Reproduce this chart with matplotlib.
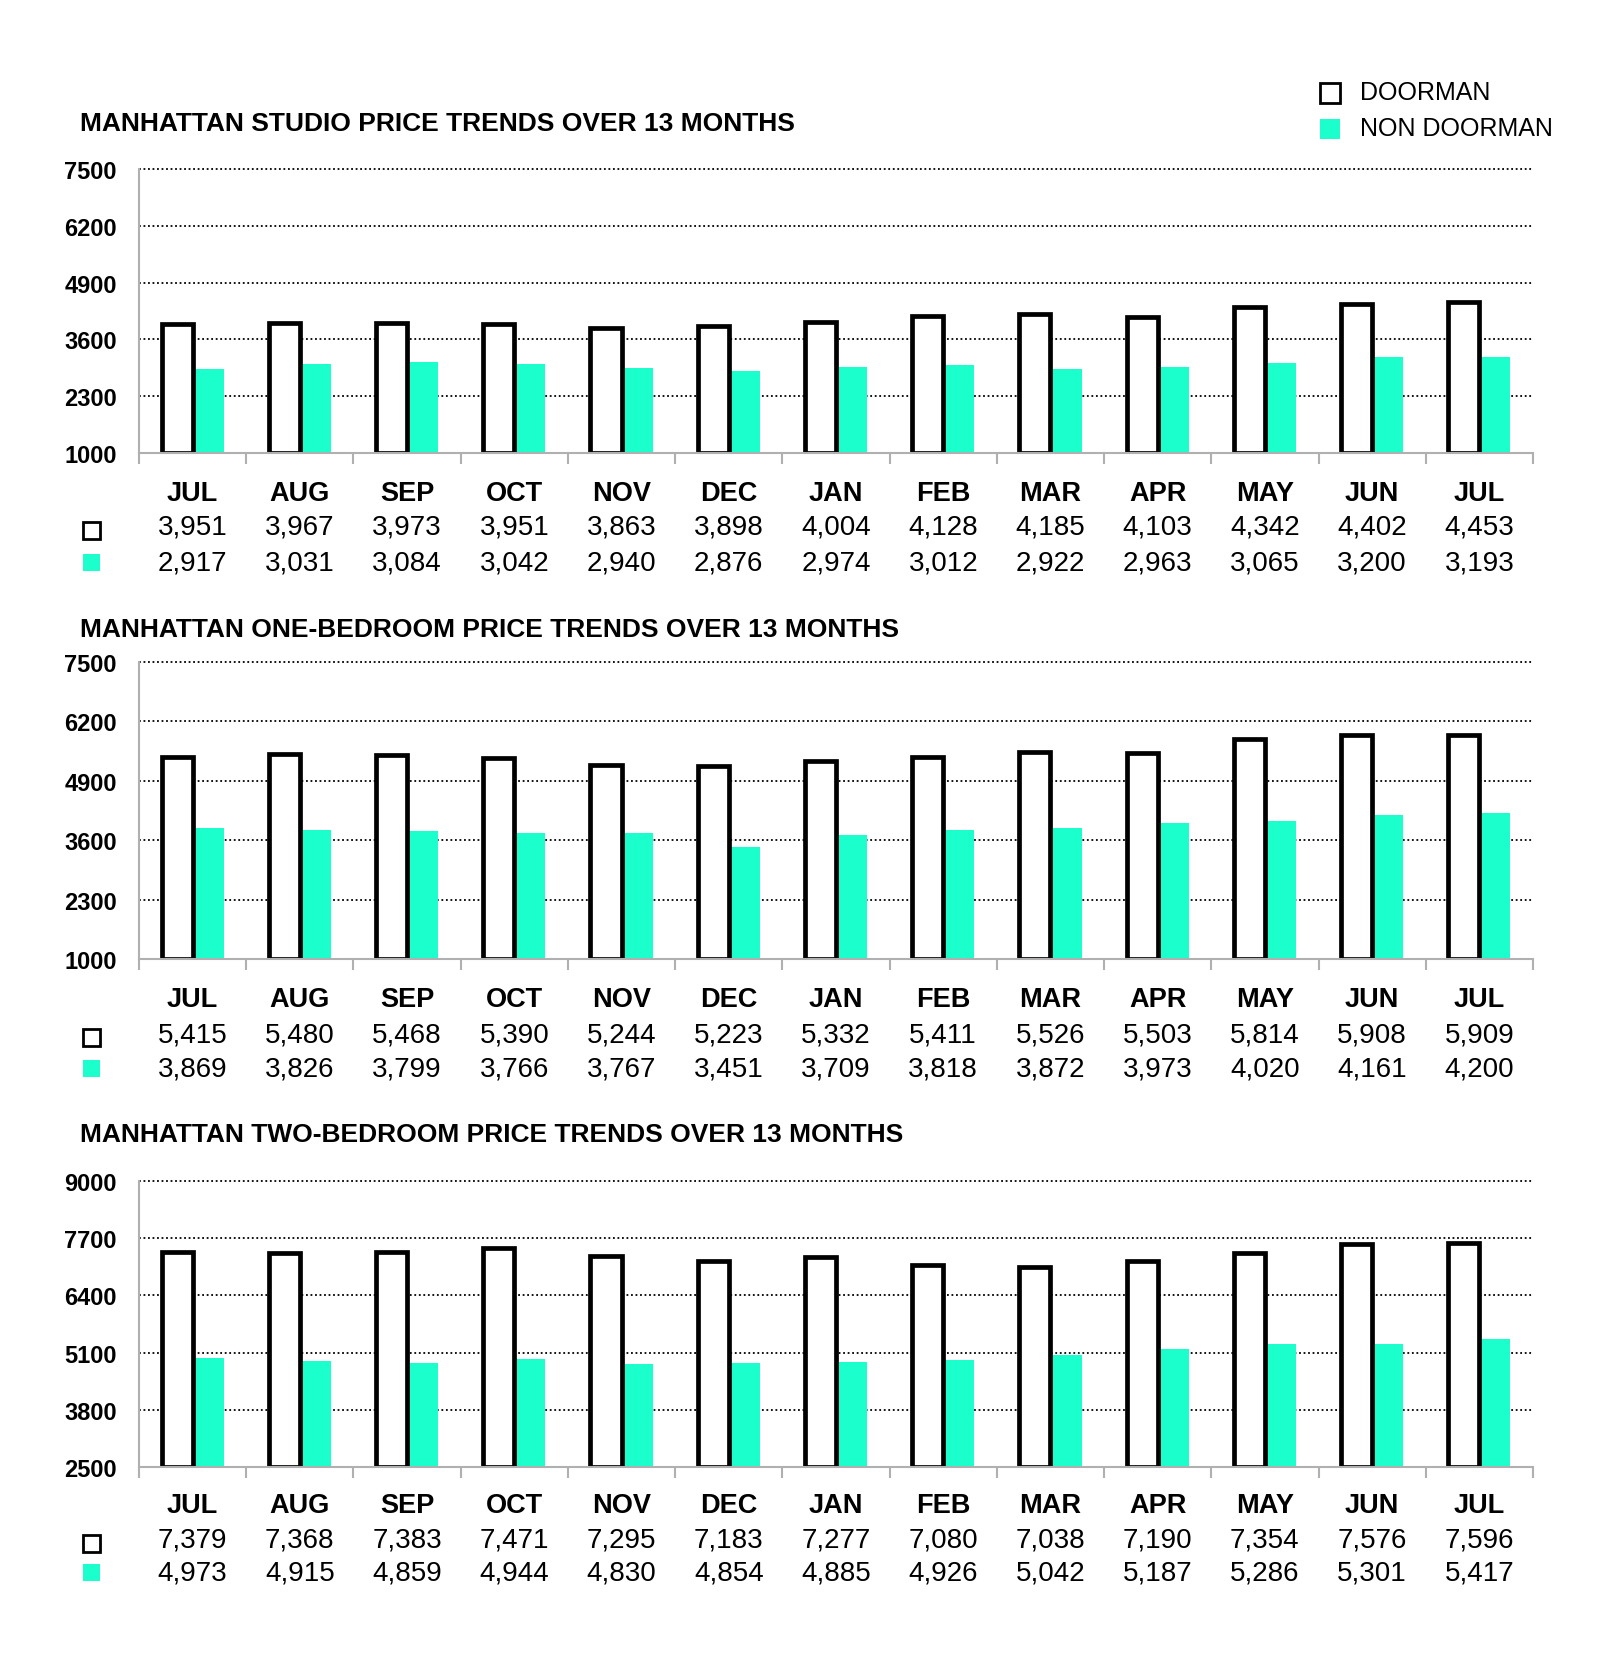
import matplotlib.pyplot as plt
from matplotlib.patches import Rectangle

plt.rcParams['font.family'] = ['Liberation Sans', 'DejaVu Sans']

months = ['JUL', 'AUG', 'SEP', 'OCT', 'NOV', 'DEC', 'JAN', 'FEB', 'MAR', 'APR', 'MAY', 'JUN', 'JUL']

studio_doorman = [3951, 3967, 3973, 3951, 3863, 3898, 4004, 4128, 4185, 4103, 4342, 4402, 4453]
studio_non = [2917, 3031, 3084, 3042, 2940, 2876, 2974, 3012, 2922, 2963, 3065, 3200, 3193]
onebed_doorman = [5415, 5480, 5468, 5390, 5244, 5223, 5332, 5411, 5526, 5503, 5814, 5908, 5909]
onebed_non = [3869, 3826, 3799, 3766, 3767, 3451, 3709, 3818, 3872, 3973, 4020, 4161, 4200]
twobed_doorman = [7379, 7368, 7383, 7471, 7295, 7183, 7277, 7080, 7038, 7190, 7354, 7576, 7596]
twobed_non = [4973, 4915, 4859, 4944, 4830, 4854, 4885, 4926, 5042, 5187, 5286, 5301, 5417]

ticks_small = [1000, 2300, 3600, 4900, 6200, 7500]
ticks_big = [2500, 3800, 5100, 6400, 7700, 9000]

CYAN = '#1affcc'
W, H = 1600, 1656

fig = plt.figure(figsize=(W / 100, H / 100), dpi=100)


def fy(py):
    # pixel from top -> figure fraction
    return 1 - py / H


def fx(px):
    return px / W


def panel(title, doorman, non, yticks, top, bottom, title_y, rows_y):
    left, right = 139, 1533
    ax = fig.add_axes([fx(left), fy(bottom), fx(right - left), (bottom - top) / H])
    x = list(range(len(months)))
    bw = 0.29
    ax.bar([i - bw / 2 for i in x], [d - yticks[0] for d in doorman], bottom=yticks[0],
           width=bw, facecolor='white', edgecolor='black', linewidth=3.4, zorder=3)
    ax.bar([i + bw / 2 for i in x], [n - yticks[0] for n in non], bottom=yticks[0],
           width=bw, color=CYAN, linewidth=0, zorder=2)
    ax.set_xlim(-0.5, len(months) - 0.5)
    ax.set_ylim(yticks[0], yticks[-1])
    ax.set_yticks(yticks)
    ax.set_yticklabels([str(t) for t in yticks], fontsize=17, fontweight='bold',
                       family=['Liberation Sans Narrow', 'Liberation Sans'])
    ax.tick_params(axis='y', length=0, pad=16)
    ax.set_xticks([i - 0.5 for i in range(len(months) + 1)])
    ax.set_xticklabels([])
    ax.tick_params(axis='x', length=8, width=1.5, color='#b0b0b0', direction='out')
    for t in yticks[1:]:
        ax.axhline(t, color='black', linestyle=(0, (1, 1.5)), linewidth=1.3, zorder=1, clip_on=False)
    for s in ['top', 'right']:
        ax.spines[s].set_visible(False)
    for s in ['left', 'bottom']:
        ax.spines[s].set_color('#b0b0b0')
        ax.spines[s].set_linewidth(1.5)
    ax.spines['bottom'].set_zorder(4)

    fig.text(fx(80), fy(title_y), title, fontsize=19, fontweight='bold', va='center', ha='left')
    trans = ax.get_xaxis_transform()
    for i in x:
        ax.text(i, (bottom - rows_y[0]) / (bottom - top), months[i], transform=trans,
                ha='center', va='center', fontsize=19.5, fontweight='bold', clip_on=False)
        ax.text(i, (bottom - rows_y[1]) / (bottom - top), f'{doorman[i]:,}', transform=trans,
                ha='center', va='center', fontsize=20, clip_on=False)
        ax.text(i, (bottom - rows_y[2]) / (bottom - top), f'{non[i]:,}', transform=trans,
                ha='center', va='center', fontsize=20, clip_on=False)
    # small row keys
    sq = 17
    fig.add_artist(Rectangle((fx(83), fy(rows_y[1] + 12)), sq / W, sq / H, facecolor='white',
                             edgecolor='black', linewidth=2, transform=fig.transFigure))
    fig.add_artist(Rectangle((fx(83), fy(rows_y[2] + 8)), sq / W, sq / H, facecolor=CYAN,
                             edgecolor='none', transform=fig.transFigure))
    return ax


panel('MANHATTAN STUDIO PRICE TRENDS OVER 13 MONTHS', studio_doorman, studio_non, ticks_small,
      170, 454, 124, (494, 528, 564))
panel('MANHATTAN ONE-BEDROOM PRICE TRENDS OVER 13 MONTHS', onebed_doorman, onebed_non, ticks_small,
      663, 960, 630, (1000, 1035, 1070))
panel('MANHATTAN TWO-BEDROOM PRICE TRENDS OVER 13 MONTHS', twobed_doorman, twobed_non, ticks_big,
      1182, 1468, 1135, (1506, 1541, 1574))

# legend at the top right
fig.add_artist(Rectangle((fx(1320), fy(104)), 20 / W, 20 / H, facecolor='white',
                         edgecolor='black', linewidth=2, transform=fig.transFigure))
fig.add_artist(Rectangle((fx(1320), fy(140)), 20 / W, 20 / H, facecolor=CYAN,
                         edgecolor='none', transform=fig.transFigure))
fig.text(fx(1360), fy(93), 'DOORMAN', fontsize=18, va='center', ha='left')
fig.text(fx(1360), fy(129), 'NON DOORMAN', fontsize=18, va='center', ha='left')

fig.savefig('out.png', dpi=100)
